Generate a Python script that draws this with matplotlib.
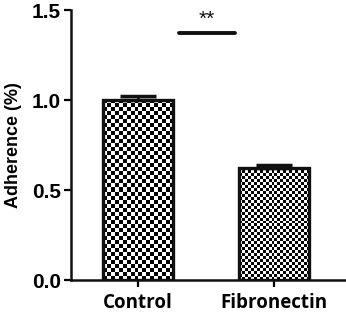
import matplotlib
matplotlib.use('Agg')
import matplotlib.pyplot as plt
import numpy as np

# Data
categories = ['Control', 'Fibronectin']
means = [1.0, 0.625]
errors = [0.02, 0.012]
checker_px = [4, 3]  # checker cell size in pixels
sig_text = '**'
sig_y = 1.37

plt.rcParams['font.family'] = ['Liberation Sans', 'DejaVu Sans']
plt.rcParams['font.weight'] = 'bold'

dpi = 100
fig = plt.figure(figsize=(3.46, 3.14), dpi=dpi)
ax = fig.add_axes([0.205, 0.108, 0.795, 0.86])

x = np.arange(len(categories))
width = 0.52
ax.set_xlim(-0.493, 1.53)
ax.set_ylim(0, 1.5)

bars = ax.bar(x, means, width=width, color='none', edgecolor='#111111',
              linewidth=2.4, zorder=3)
# only upper error shown (cap on top of bar)
ax.errorbar(x, means, yerr=[np.zeros(len(errors)), errors], fmt='none',
            ecolor='#111111', elinewidth=2.0, capsize=13, capthick=2.5,
            zorder=4)
fig.canvas.draw()

# checkerboard fill in each bar
for bar, c in zip(bars, checker_px):
    bb = bar.get_window_extent()
    nx = max(int(round(bb.width / c)), 1)
    ny = max(int(round(bb.height / c)), 1)
    board = (np.add.outer(np.arange(ny), np.arange(nx)) % 2).astype(float)
    x0, y0 = bar.get_x(), bar.get_y()
    im = ax.imshow(board, cmap='gray', interpolation='nearest', aspect='auto',
                   extent=[x0, x0 + bar.get_width(), y0, y0 + bar.get_height()],
                   zorder=2.5)
    im.set_clip_path(bar)
ax.set_xlim(-0.493, 1.53)
ax.set_ylim(0, 1.5)

# significance bar
ax.plot([0.3, 0.71], [sig_y, sig_y], color='#111111', lw=2.8,
        solid_capstyle='round', zorder=5)
ax.text(0.505, sig_y + 0.025, sig_text, ha='center', va='bottom',
        fontsize=15, fontweight='normal', color='#111111')

ax.set_yticks([0, 0.5, 1.0, 1.5])
ax.set_yticklabels(['0.0', '0.5', '1.0', '1.5'])
ax.set_xticks(x)
ax.set_xticklabels(categories, fontfamily=['Open Sans', 'DejaVu Sans'],
                   fontsize=13.5, fontweight='bold')
ax.tick_params(axis='y', labelsize=15, width=1.6, length=5, direction='out',
               pad=2)
ax.tick_params(axis='x', width=1.6, length=5, direction='out', pad=4)
ax.set_ylabel('Adherence (%)', fontsize=13, fontweight='bold', labelpad=7)

for s in ['top', 'right']:
    ax.spines[s].set_visible(False)
for s in ['left', 'bottom']:
    ax.spines[s].set_linewidth(1.8)
    ax.spines[s].set_color('#111111')

fig.savefig('out.png', dpi=dpi)
